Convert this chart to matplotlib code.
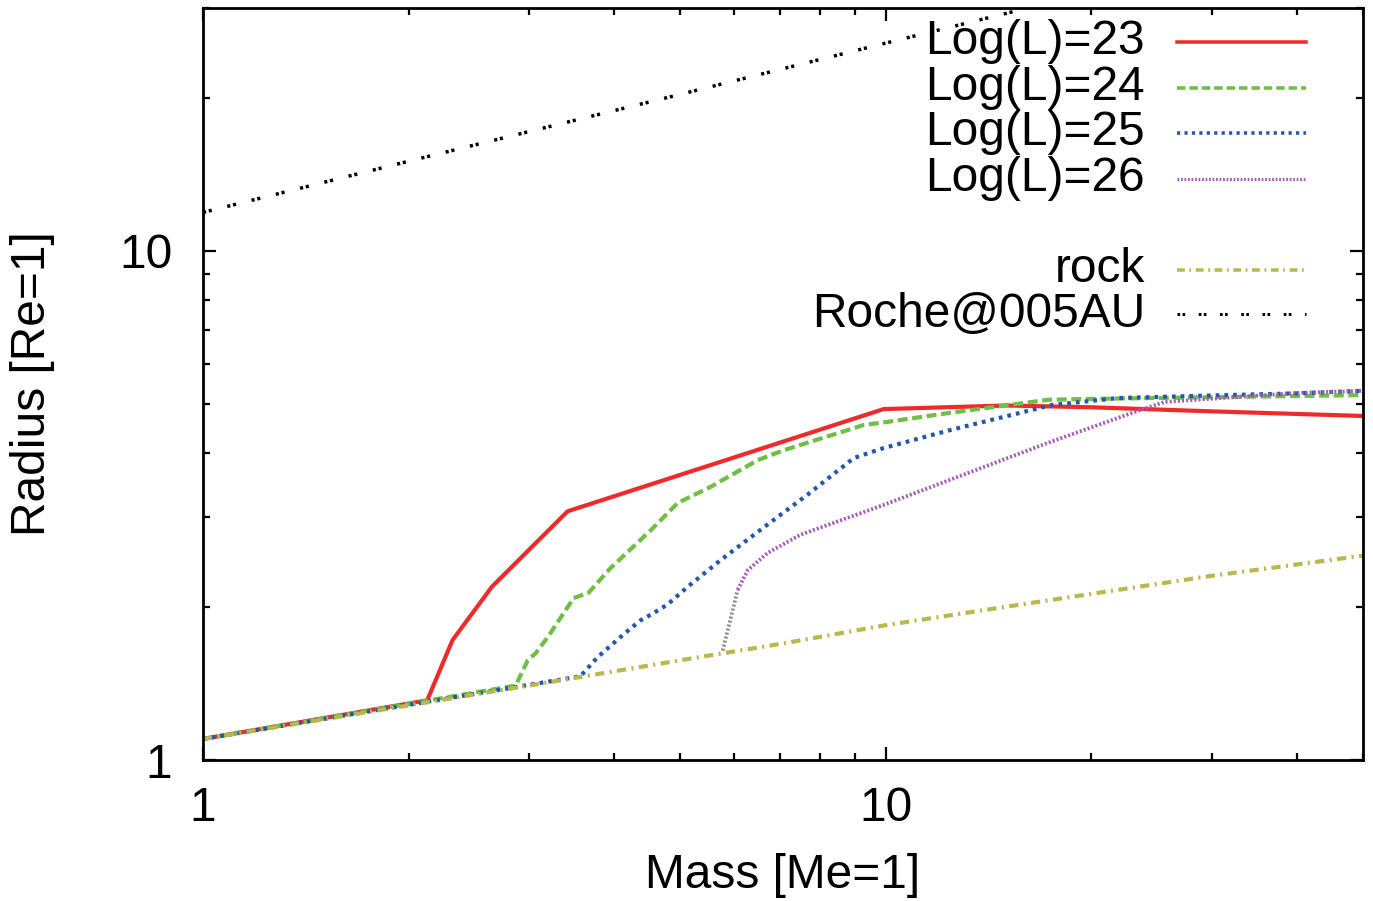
import numpy as np
import matplotlib
matplotlib.use("Agg")
import matplotlib.pyplot as plt
from matplotlib.ticker import LogLocator, NullFormatter, FixedLocator, FixedFormatter

# ------------------------------
# data
# ------------------------------
mass_l23 = [1, 2.13, 2.32, 2.65, 3.42, 9.93, 15, 20, 30, 50]
rad_l23 = [1.10, 1.31, 1.72, 2.19, 3.08, 4.89, 4.97, 4.93, 4.84, 4.74]

mass_l24 = [1, 2.87, 2.99, 3.07, 3.2, 3.49, 3.67, 3.95, 4.53, 4.96, 5.54,
            6.49, 7.09, 9.28, 10, 12.45, 17.3, 20, 30, 50]
rad_l24 = [1.10, 1.40, 1.57, 1.62, 1.745, 2.08, 2.13, 2.38, 2.83, 3.2, 3.44,
           3.88, 4.06, 4.55, 4.61, 4.81, 5.1, 5.12, 5.16, 5.21]

mass_l25 = [1, 3.57, 3.78, 4.09, 4.37, 4.53, 4.79, 5.13, 5.73, 6.71, 7.68,
            8.98, 9.93, 12.45, 17.5, 21.9, 30, 40, 50]
rad_l25 = [1.10, 1.46, 1.59, 1.745, 1.88, 1.93, 2.02, 2.19, 2.47, 2.90, 3.32,
           3.92, 4.10, 4.45, 4.98, 5.14, 5.2, 5.25, 5.31]

mass_l26 = [6.07, 6.28, 6.71, 7.5, 9.93, 13.9, 17.3, 23.6, 25.6, 40, 50]
rad_l26 = [2.16, 2.36, 2.55, 2.77, 3.17, 3.76, 4.20, 4.87, 5.05, 5.26, 5.31]

# short grey jump where the L=26 curve leaves the rock line
mass_jump = [5.77, 6.07]
rad_jump = [1.64, 2.16]

mass_rock = [1, 2, 3, 5, 7, 10, 15, 20, 30, 50]
rad_rock = [1.10, 1.28, 1.40, 1.57, 1.69, 1.84, 2.0, 2.12, 2.30, 2.52]

mass_roche = [1, 2, 5, 10, 20, 50]
rad_roche = [11.9, 15.0, 20.3, 25.6, 32.2, 43.7]

labels = ["Log(L)=23", "Log(L)=24", "Log(L)=25", "Log(L)=26", "rock", "Roche@005AU"]

# ------------------------------
# styles
# ------------------------------
plt.rcParams['font.family'] = ['Liberation Sans', 'DejaVu Sans']
FS = 34.5

c_red = '#ee2b2b'
c_green = '#6fbf44'
c_blue = '#2456ac'
c_purple = '#a45cb4'
c_rock = '#b8b84c'
c_roche = '#000000'
c_grey = '#8c8c8c'

styles = [
    dict(color=c_red, lw=3.0, linestyle='-'),
    dict(color=c_green, lw=3.0, dashes=(2.4, 1.1)),
    dict(color=c_blue, lw=3.0, dashes=(0.9, 1.2)),
    dict(color=c_purple, lw=2.7, dashes=(0.55, 0.55)),
    dict(color=c_rock, lw=3.0, dashes=(2.2, 1.3, 0.5, 1.3)),
    dict(color=c_roche, lw=2.5, dashes=(0.9, 0.8, 0.9, 4.6)),
]

fig = plt.figure(figsize=(13.73, 9.01), dpi=100)
ax = fig.add_axes([203 / 1373, (901 - 760) / 901, 1160 / 1373, 752 / 901])

ax.plot(mass_l23, rad_l23, **styles[0])
ax.plot(mass_l24, rad_l24, **styles[1])
ax.plot(mass_l25, rad_l25, **styles[2])
ax.plot(mass_jump, rad_jump, color=c_grey, lw=2.7, dashes=(0.55, 0.55))
ax.plot(mass_l26, rad_l26, **styles[3])
ax.plot(mass_rock, rad_rock, **styles[4])
ax.plot(mass_roche, rad_roche, **styles[5])

ax.set_xscale('log')
ax.set_yscale('log')
ax.set_xlim(1, 50)
ax.set_ylim(1, 30)

# ticks, gnuplot style: inward, mirrored
for axis in (ax.xaxis, ax.yaxis):
    axis.set_major_locator(FixedLocator([1, 10]))
    axis.set_major_formatter(FixedFormatter(['1', '10']))
    axis.set_minor_locator(LogLocator(base=10, subs=np.arange(2, 10)))
    axis.set_minor_formatter(NullFormatter())
ax.tick_params(which='both', direction='in', top=True, right=True, width=1.6)
ax.tick_params(which='major', length=9.5)
ax.tick_params(which='minor', length=5)
ax.tick_params(axis='x', which='major', labelsize=FS, pad=19)
ax.tick_params(axis='y', which='major', labelsize=FS, pad=22)
for sp in ax.spines.values():
    sp.set_linewidth(2)

ax.set_xlabel('Mass [Me=1]', fontsize=FS, va='center')
ax.set_ylabel('Radius [Re=1]', fontsize=FS, va='center')
ax.xaxis.set_label_coords(0.5, -0.153)
ax.yaxis.set_label_coords(-0.147, 0.5)

# ------------------------------
# legend drawn gnuplot-style (text right-aligned, sample on the right)
# ------------------------------
rows = [0.955, 0.894, 0.834, 0.773, 0.652, 0.593]
for lab, st, yy in zip(labels, styles, rows):
    ax.text(0.812, yy, lab, transform=ax.transAxes, ha='right', va='center',
            fontsize=FS)
    ax.plot([0.840, 0.951], [yy, yy], transform=ax.transAxes, clip_on=False,
            **{k: v for k, v in st.items() if k != 'lw'}, lw=st['lw'] * 0.85)

fig.savefig('out.png', dpi=100)
